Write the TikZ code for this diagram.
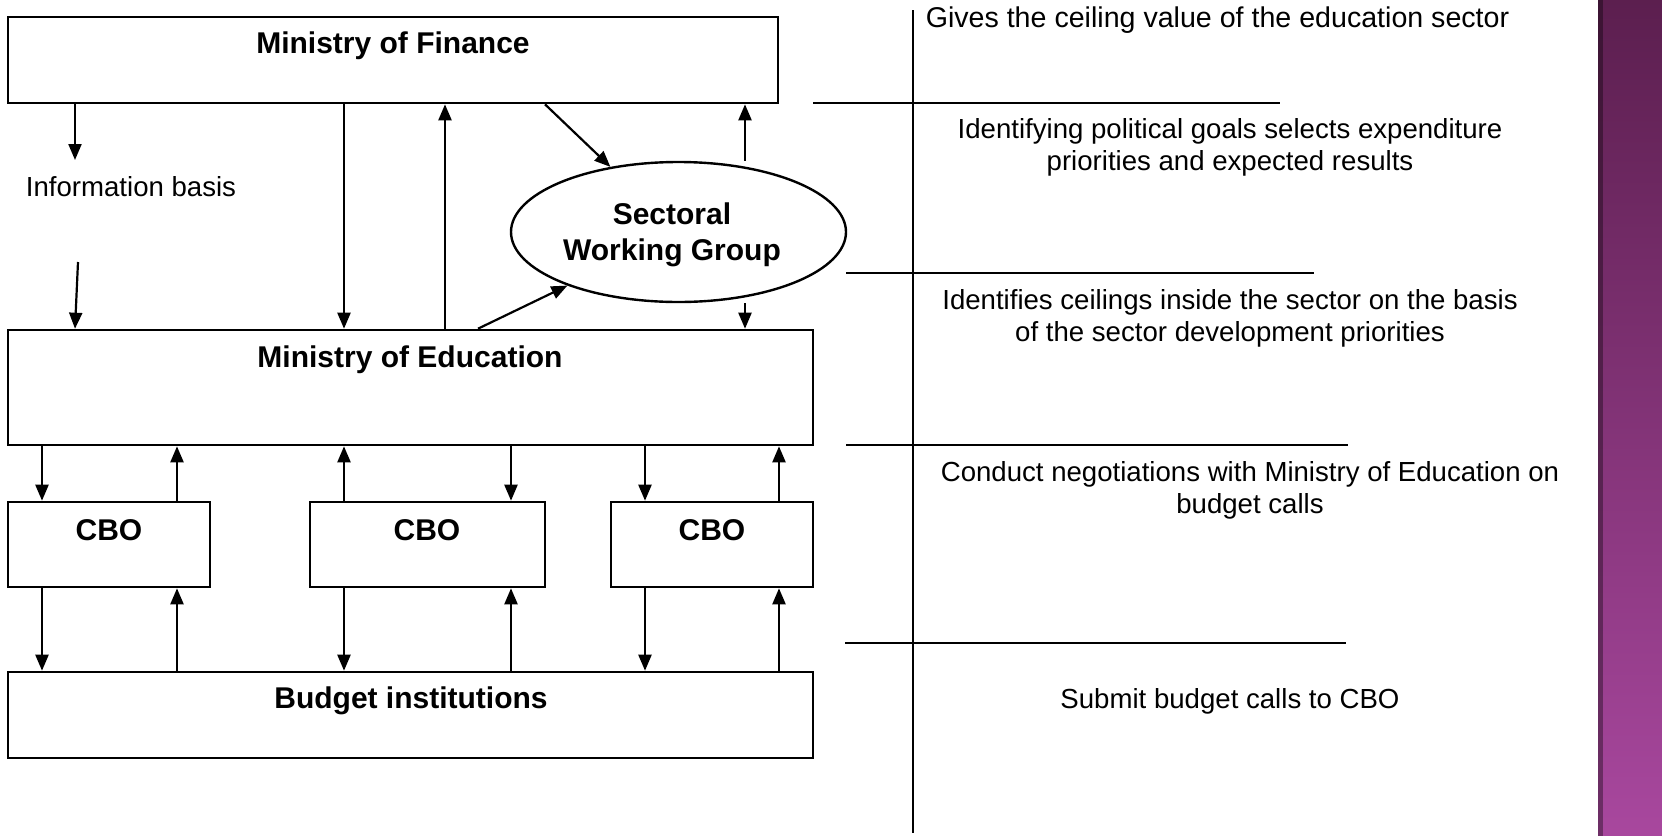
\documentclass[tikz,border=0pt]{standalone}
\usepackage{fontspec}
\setmainfont{Liberation Sans}
\usetikzlibrary{positioning,shapes.geometric,arrows.meta}
\definecolor{boxclr}{rgb}{0,0,0}
\definecolor{striptop}{rgb}{0.36, 0.12, 0.31}
\definecolor{stripbot}{rgb}{0.66, 0.28, 0.62}
\tikzset{ %
  ,>={Triangle[length=8pt,width=6.5pt]}
  ,box/.style={draw=boxclr, line width=1.3pt, rectangle, inner sep=0}
  ,group/.style={draw=boxclr, line width=1.2pt, ellipse, inner sep=0, minimum width=167.5pt, minimum height=70pt}
  ,title/.style={font=\fontsize{15}{17}\selectfont\bfseries, inner sep=0}
  ,note/.style={font=\fontsize{13.8}{16}\selectfont, align=center, inner sep=0}
  ,flow/.style={->, line width=1.1pt}
  ,rule/.style={line width=1.1pt}
}
\begin{document}
\begin{tikzpicture}[x=0.5pt, y=-0.5pt]
      \useasboundingbox (0,0) rectangle (1662,836);
      % purple strip at the right
      \shade[top color=striptop, bottom color=stripbot] (1598,0) rectangle (1662,836);
      \fill[black, opacity=0.35] (1598,0) rectangle (1603,836);
      % boxes
      \draw
      node[box, minimum width=385pt, minimum height=43pt] (fin) at (393,60) {}
      node[box, minimum width=402.5pt, minimum height=57.5pt] (edu) at (410.5,387.5) {}
      node[box, minimum width=101pt, minimum height=42.5pt] (cbo1) at (109,544.5) {}
      node[box, minimum width=117.5pt, minimum height=42.5pt] (cbo2) at (427.5,544.5) {}
      node[box, minimum width=101pt, minimum height=42.5pt] (cbo3) at (712,544.5) {}
      node[box, minimum width=402.5pt, minimum height=43pt] (bud) at (410.5,715) {}
      node[group] (swg) at (678.5,232) {};
      % box titles
      \node[title] (finlbl) at (393,46) {Ministry of Finance};
      \node[title] (edulbl) at (410,360) {Ministry of Education};
      \node[title] (cbolbl1) at (109,530) {CBO};
      \node[title] (cbolbl2) at (427,530) {CBO};
      \node[title] (cbolbl3) at (712,530) {CBO};
      \node[title] (budlbl) at (411,701) {Budget institutions};
      \node[title, align=center] (swglbl) at (672,235) {Sectoral\\[1pt]Working Group};
      \node[note, font=\fontsize{13.8}{16}\selectfont] (info) at (131,187) {Information basis};
      % columns of the arrows
      \coordinate (x42) at (42,0);
      \coordinate (x75) at (75,0);
      \coordinate (x177) at (177,0);
      \coordinate (x344) at (344,0);
      \coordinate (x445) at (445,0);
      \coordinate (x478) at (478,0);
      \coordinate (x511) at (511,0);
      \coordinate (x545) at (545,0);
      \coordinate (x645) at (645,0);
      \coordinate (x745) at (745,0);
      \coordinate (x779) at (779,0);
      \coordinate (infoA) at (75,160);
      \coordinate (infoB) at (78,262);
      % finance, working group and education
      \draw[flow] (fin.south -| x75) -- (infoA);
      \draw[flow] (infoB) -- (edu.north -| x75);
      \draw[flow] (fin.south -| x344) -- (edu.north -| x344);
      \draw[flow] (edu.north -| x445) -- (fin.south -| x445);
      \draw[flow] (fin.south -| x545) -- (swg);
      \draw[flow] (swg.north -| x745) -- (fin.south -| x745);
      \draw[flow] (swg.south -| x745) -- (edu.north -| x745);
      \draw[flow] (edu.north -| x478) -- (swg);
      % education and CBOs
      \draw[flow] (edu.south -| x42) -- (cbo1.north -| x42);
      \draw[flow] (cbo1.north -| x177) -- (edu.south -| x177);
      \draw[flow] (cbo2.north -| x344) -- (edu.south -| x344);
      \draw[flow] (edu.south -| x511) -- (cbo2.north -| x511);
      \draw[flow] (edu.south -| x645) -- (cbo3.north -| x645);
      \draw[flow] (cbo3.north -| x779) -- (edu.south -| x779);
      % CBOs and budget institutions
      \draw[flow] (cbo1.south -| x42) -- (bud.north -| x42);
      \draw[flow] (bud.north -| x177) -- (cbo1.south -| x177);
      \draw[flow] (cbo2.south -| x344) -- (bud.north -| x344);
      \draw[flow] (bud.north -| x511) -- (cbo2.south -| x511);
      \draw[flow] (cbo3.south -| x645) -- (bud.north -| x645);
      \draw[flow] (bud.north -| x779) -- (cbo3.south -| x779);
      % explanation column
      \draw[rule] (913,10) -- (913,833);
      \draw[rule] (813,103) -- (1280,103);
      \draw[rule] (846,273) -- (1314,273);
      \draw[rule] (846,445) -- (1348,445);
      \draw[rule] (845,643) -- (1346,643);
      \node[note, font=\fontsize{14.3}{16}\selectfont] (step1) at (1217.5,20) {Gives the ceiling value of the education sector};
      \node[note] (step2) at (1230,147) {Identifying political goals selects expenditure\\priorities and expected results};
      \node[note] (step3) at (1230,318) {Identifies ceilings inside the sector on the basis\\of the sector development priorities};
      \node[note] (step4) at (1250,490) {Conduct negotiations with Ministry of Education on\\budget calls};
      \node[note] (step5) at (1230,701) {Submit budget calls to CBO};
    \end{tikzpicture}
\end{document}
